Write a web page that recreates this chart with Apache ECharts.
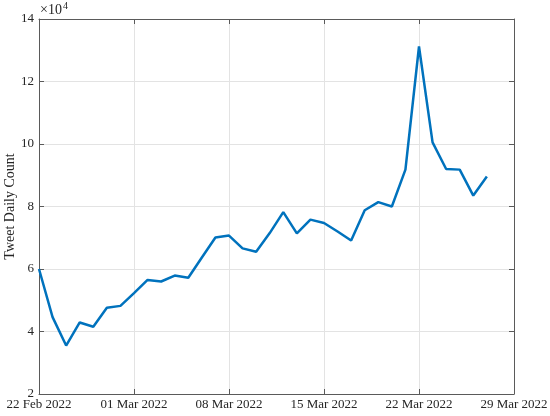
<!DOCTYPE html>
<html>
<head>
<meta charset="utf-8">
<script src="https://cdn.jsdelivr.net/npm/echarts@6/dist/echarts.min.js"></script>
<style>
  html, body { margin: 0; padding: 0; background: #fff; }
  #chart { width: 550px; height: 416px; }
</style>
</head>
<body>
<div id="chart"></div>
<script>
// daily tweet counts, 22 Feb 2022 .. 27 Mar 2022
const startDate = '2022-02-22'
const counts = [
  60000, 44600, 35500, 42900, 41500, 47600, 48200, 52300, 56500, 56000,
  57900, 57200, 63700, 70100, 70700, 66600, 65500, 71500, 78200, 71400,
  75800, 74700, 72000, 69100, 78800, 81400, 80000, 91800, 131200, 100500,
  92000, 91800, 83500, 89600
]
const xTicks = ['22 Feb 2022', '01 Mar 2022', '08 Mar 2022', '15 Mar 2022', '22 Mar 2022', '29 Mar 2022']
const yTicks = [2, 4, 6, 8, 10, 12, 14]

const font = '"Liberation Serif", "DejaVu Serif", serif'
const dayMs = 86400000
const t0 = new Date(startDate + 'T00:00:00Z').getTime()
// x = days since start date
const lineData = counts.map((c, i) => [(t0 + i * dayMs - t0) / dayMs, c])

const chart = echarts.init(document.getElementById('chart'))
const boxColor = '#5a5a5a'
const tickStyle = { show: true, inside: true, length: 5, lineStyle: { color: boxColor, width: 1 } }

chart.setOption({
  animation: false,
  grid: { left: 39, right: 36, top: 19, bottom: 22, outerBoundsMode: 'none', containLabel: false },
  xAxis: [{
    type: 'value',
    min: 0, max: 35, interval: 7,
    axisLine: { show: true, lineStyle: { color: boxColor, width: 1 } },
    axisTick: tickStyle,
    splitLine: { show: true, lineStyle: { color: '#e3e3e3', width: 1 } },
    axisLabel: {
      color: '#262626', fontFamily: font, fontSize: 13, margin: 4,
      formatter: v => xTicks[Math.round(v / 7)]
    }
  }, {
    type: 'value', position: 'top',
    min: 0, max: 35, interval: 7,
    axisLine: { show: true, onZero: false, lineStyle: { color: boxColor, width: 1 } },
    axisTick: tickStyle,
    axisLabel: { show: false },
    splitLine: { show: false }
  }],
  yAxis: [{
    type: 'value',
    min: 20000, max: 140000, interval: 20000,
    name: 'Tweet Daily Count',
    nameLocation: 'middle',
    nameGap: 22,
    nameMoveOverlap: false,
    nameTextStyle: { color: '#262626', fontFamily: font, fontSize: 14 },
    axisLine: { show: true, lineStyle: { color: boxColor, width: 1 } },
    axisTick: tickStyle,
    splitLine: { show: true, lineStyle: { color: '#e3e3e3', width: 1 } },
    axisLabel: {
      color: '#262626', fontFamily: font, fontSize: 13, margin: 5,
      formatter: v => String(yTicks[Math.round((v - 20000) / 20000)])
    }
  }, {
    type: 'value', position: 'right',
    min: 20000, max: 140000, interval: 20000,
    axisLine: { show: true, onZero: false, lineStyle: { color: boxColor, width: 1 } },
    axisTick: tickStyle,
    axisLabel: { show: false },
    splitLine: { show: false }
  }],
  graphic: [{
    type: 'text', left: 40, top: 1,
    style: {
      text: '×10{s|4}',
      rich: { s: { fontSize: 10, fontFamily: font, fill: '#262626', padding: [0, 0, 8, 1] } },
      font: '14px ' + font, fill: '#262626'
    }
  }],
  series: [{
    type: 'line',
    data: lineData,
    symbol: 'none',
    lineStyle: { color: '#0072BD', width: 2.5 },
    itemStyle: { color: '#0072BD' }
  }]
})
</script>
</body>
</html>
